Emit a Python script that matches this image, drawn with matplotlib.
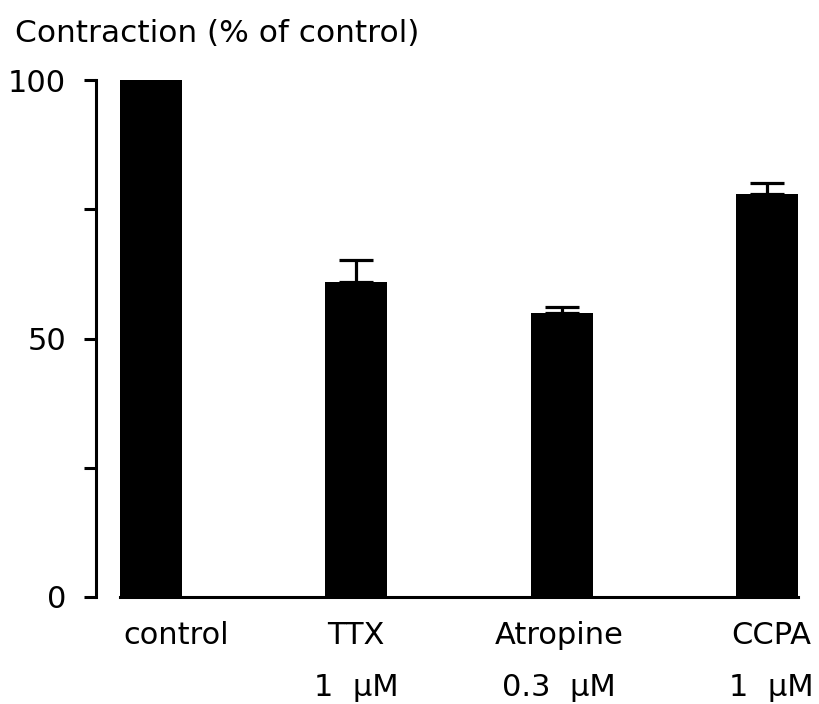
import matplotlib
matplotlib.use("Agg")
import matplotlib.pyplot as plt
from matplotlib.ticker import FixedLocator
from matplotlib.transforms import ScaledTranslation

categories = ["control", "TTX\n1  μM", "Atropine\n0.3  μM", "CCPA\n1  μM"]
values = [100, 61, 55, 78]
errors = [0, 4.2, 1.1, 2.0]
yticks = [0, 50, 100]
yminor = [25, 75]

plt.rcParams["font.family"] = ["DejaVu Sans"]

W, H = 819, 704
fig = plt.figure(figsize=(W / 100, H / 100), dpi=100)
ax = fig.add_axes([120 / W, (H - 597) / H, 678 / W, 517 / H])

x = list(range(len(categories)))
bar_w = 0.3
ax.bar(x, values, width=bar_w, color="black", edgecolor="none", zorder=2)

# upper error bars only
for xi, v, e in zip(x, values, errors):
    if e > 0:
        ax.errorbar(xi, v, yerr=[[0], [e]], fmt="none", ecolor="black",
                    elinewidth=2.3, capsize=12, capthick=2.3, zorder=3)

ax.set_xlim(-bar_w / 2, len(categories) - 1 + bar_w / 2)
ax.set_ylim(0, 100)

for side in ("top", "right"):
    ax.spines[side].set_visible(False)
ax.spines["left"].set_position(("outward", 17.3))
ax.spines["left"].set_linewidth(2.2)
ax.spines["bottom"].set_linewidth(2.2)

ax.set_yticks(yticks)
ax.set_yticklabels([str(t) for t in yticks], fontsize=22)
ax.yaxis.set_minor_locator(FixedLocator(yminor))
ax.tick_params(axis="y", which="both", direction="out", length=8.6, width=2.2, pad=13)

ax.set_xticks(x)
ax.set_xticklabels(categories, fontsize=22, linespacing=2.0, va="top")
ax.tick_params(axis="x", length=0, pad=17.5)

# small horizontal offsets for the category labels (pixels)
shifts_px = [25, 0, -3, 4]
for lab, dx in zip(ax.get_xticklabels(), shifts_px):
    lab.set_transform(lab.get_transform() + ScaledTranslation(dx / 100, 0, fig.dpi_scale_trans))

fig.text(15 / W, 1 - 42 / H, "Contraction (% of control)", fontsize=22.5,
         ha="left", va="baseline")

fig.savefig("out.png", dpi=100)
